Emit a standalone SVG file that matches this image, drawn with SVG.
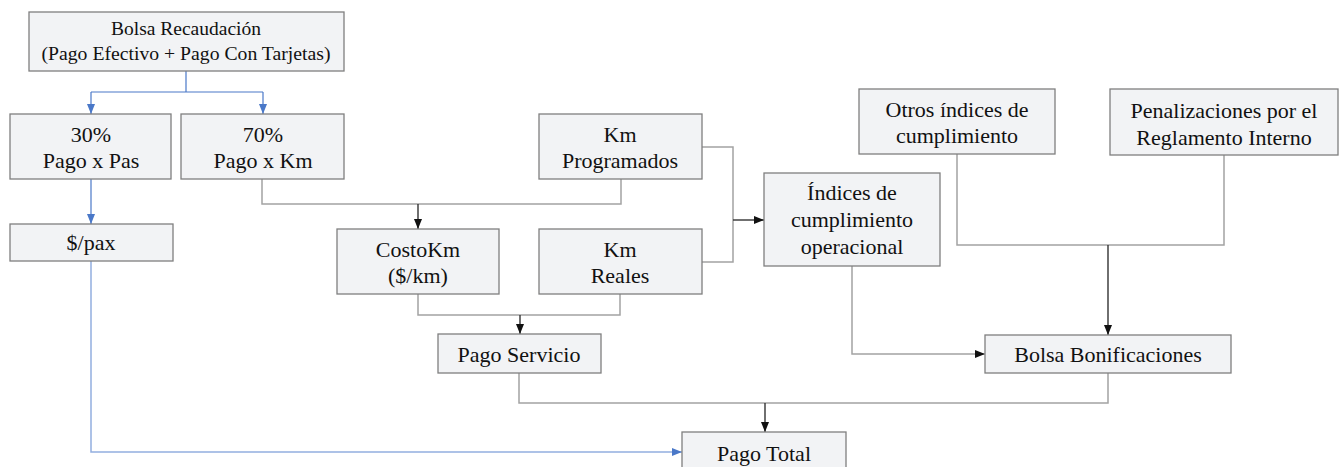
<svg xmlns="http://www.w3.org/2000/svg" width="1341" height="467" viewBox="0 0 1341 467">
<defs>
<style>
.box{fill:#f2f3f5;stroke:#7f7f7f;stroke-width:1.3}
.t{font-family:"Liberation Serif","Times New Roman",serif;font-size:22px;fill:#111;text-anchor:middle}
.ts{font-size:19.5px}
.g{fill:none;stroke:#a3a3a3;stroke-width:1.5}
.d{fill:none;stroke:#333;stroke-width:1.4}
.b{fill:none;stroke:#4a78c8;stroke-width:1.2}
.bl{fill:none;stroke:#93aee0;stroke-width:1.5}
</style>
<marker id="ad" markerWidth="10" markerHeight="10" viewBox="0 0 10 10" refX="10" refY="5" orient="auto" markerUnits="userSpaceOnUse">
<path d="M0,1 L10,5 L0,9 Z" fill="#111"/>
</marker>
<marker id="ab" markerWidth="10" markerHeight="10" viewBox="0 0 10 10" refX="10" refY="5" orient="auto" markerUnits="userSpaceOnUse">
<path d="M0,1 L10,5 L0,9 Z" fill="#4a78c8"/>
</marker>
</defs>
<rect width="1341" height="467" fill="#fff"/>
<g id="connectors">
<path class="b" d="M186,71 V92 M91,92 H263"/>
<path class="b" d="M91,92 V114" marker-end="url(#ab)"/>
<path class="b" d="M263,92 V114" marker-end="url(#ab)"/>
<path class="b" d="M91,179 V224" marker-end="url(#ab)"/>
<path class="bl" d="M91,261 V452 H682" marker-end="url(#ab)"/>
<path class="g" d="M262,179 V204 H621 V179"/>
<path class="d" d="M418,204 V229" marker-end="url(#ad)"/>
<path class="g" d="M702,147 H733 V262 H702"/>
<path class="d" d="M733,220 H764" marker-end="url(#ad)"/>
<path class="g" d="M418,294 V315 H620 V294"/>
<path class="d" d="M520,315 V334" marker-end="url(#ad)"/>
<path class="g" d="M852,266 V354 H985" marker-end="url(#ad)"/>
<path class="g" d="M957,154 V245 H1224 V155"/>
<path class="d" d="M1108,245 V335" marker-end="url(#ad)"/>
<path class="g" d="M519,373 V403 H1108 V373"/>
<path class="d" d="M765,403 V432" marker-end="url(#ad)"/>
</g>
<g id="bolsa-recaudacion">
<rect class="box" x="29" y="12" width="315" height="59"/>
<text class="t ts" x="186" y="35">Bolsa Recaudación</text>
<text class="t ts" x="186" y="60" textLength="289" lengthAdjust="spacingAndGlyphs">(Pago Efectivo + Pago Con Tarjetas)</text>
</g>
<g id="pago-pas">
<rect class="box" x="10" y="114" width="161" height="65"/>
<text class="t" x="91" y="142">30%</text>
<text class="t" x="91" y="168">Pago x Pas</text>
</g>
<g id="pago-km">
<rect class="box" x="181" y="114" width="163" height="65"/>
<text class="t" x="263" y="142">70%</text>
<text class="t" x="263" y="168">Pago x Km</text>
</g>
<g id="pax">
<rect class="box" x="10" y="224" width="163" height="37"/>
<text class="t" x="91" y="250">$/pax</text>
</g>
<g id="km-programados">
<rect class="box" x="539" y="114" width="163" height="65"/>
<text class="t" x="620" y="142">Km</text>
<text class="t" x="620" y="168">Programados</text>
</g>
<g id="costo-km">
<rect class="box" x="337" y="229" width="162" height="65"/>
<text class="t" x="418" y="257">CostoKm</text>
<text class="t" x="418" y="283">($/km)</text>
</g>
<g id="km-reales">
<rect class="box" x="539" y="229" width="163" height="65"/>
<text class="t" x="620" y="257">Km</text>
<text class="t" x="620" y="283">Reales</text>
</g>
<g id="indices">
<rect class="box" x="764" y="173" width="176" height="93"/>
<text class="t" x="852" y="200">Índices de</text>
<text class="t" x="852" y="227">cumplimiento</text>
<text class="t" x="852" y="254">operacional</text>
</g>
<g id="otros">
<rect class="box" x="859" y="89" width="196" height="65"/>
<text class="t" x="957" y="117">Otros índices de</text>
<text class="t" x="957" y="143">cumplimiento</text>
</g>
<g id="penalizaciones">
<rect class="box" x="1110" y="89" width="228" height="66"/>
<text class="t" x="1224" y="118">Penalizaciones por el</text>
<text class="t" x="1224" y="145">Reglamento Interno</text>
</g>
<g id="pago-servicio">
<rect class="box" x="438" y="334" width="163" height="39"/>
<text class="t" x="519" y="362">Pago Servicio</text>
</g>
<g id="bolsa-bonificaciones">
<rect class="box" x="985" y="335" width="246" height="38"/>
<text class="t" x="1108" y="362">Bolsa Bonificaciones</text>
</g>
<g id="pago-total">
<rect class="box" x="682" y="432" width="164" height="45"/>
<text class="t" x="764" y="461">Pago Total</text>
</g>
</svg>
